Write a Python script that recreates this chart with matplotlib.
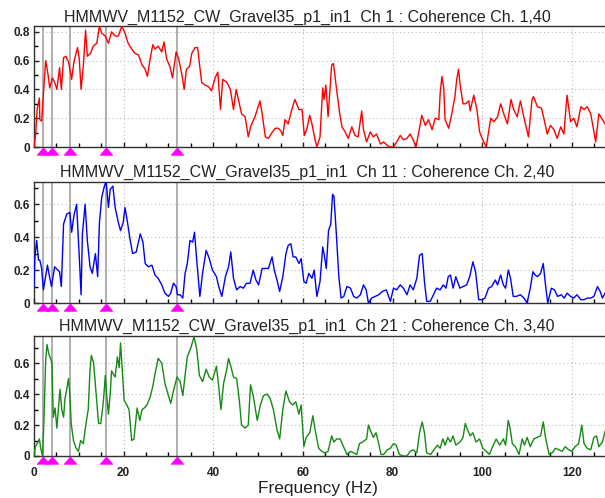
import matplotlib
matplotlib.use("Agg")
import matplotlib.pyplot as plt
from matplotlib.ticker import MultipleLocator, FuncFormatter

plt.rcParams['font.family'] = ['Liberation Sans', 'DejaVu Sans']

run_name = "HMMWV_M1152_CW_Gravel35_p1_in1"
titles = [run_name + "  Ch 1 : Coherence Ch. 1,40",
          run_name + "  Ch 11 : Coherence Ch. 2,40",
          run_name + "  Ch 21 : Coherence Ch. 3,40"]
harmonics = [2, 4, 8, 16, 32]  # Hz, grey lines + magenta arrows

# Ch 1 vs 40 (red)
f1 = [0, 0.4, 0.7, 1.2, 1.3, 1.7, 2.1, 2.6, 3.1, 3.5, 4.1, 4.6, 5.1, 5.7, 6.1, 6.6, 7.1, 7.7, 8.4, 8.9,
      9.7, 10.1, 10.5, 11.0, 11.5, 11.9, 12.6, 13.2, 14.0, 14.6, 15.1, 15.9, 16.6, 17.3, 18.1, 18.8, 19.6, 20.3, 21.0, 21.8,
      22.5, 23.3, 24.1, 24.8, 25.3, 25.9, 26.5, 27.0, 27.7, 28.5, 29.0, 29.6, 30.3, 30.9, 31.7, 32.3, 33.0, 33.5, 34.0, 34.7,
      35.2, 35.9, 36.5, 36.9, 37.4, 38.1, 38.9, 39.6, 40.4, 41.0, 41.6, 42.1, 43.0, 43.8, 44.5, 45.1, 45.6, 46.3, 47.1, 47.8,
      48.3, 49.3, 50.4, 50.9, 51.6, 52.3, 53.1, 53.8, 54.5, 55.1, 55.5, 56.0, 56.7, 57.5, 58.2, 59.1, 59.8, 60.3, 60.9, 61.5,
      62.0, 62.7, 63.1, 63.8, 64.4, 64.7, 65.1, 65.6, 66.4, 66.8, 67.5, 68.2, 68.7, 69.4, 70.1, 70.9, 71.6, 72.3, 73.1, 73.5,
      74.2, 75.0, 75.7, 76.4, 77.3, 78.0, 78.8, 79.5, 80.2, 80.9, 81.7, 82.4, 83.2, 83.9, 84.6, 85.2, 86.0, 86.5, 87.3, 88.0,
      88.8, 89.5, 90.3, 90.6, 91.0, 91.4, 91.7, 92.5, 93.2, 93.9, 94.3, 94.7, 95.1, 95.7, 96.3, 97.0, 97.3, 98.1, 98.8, 99.4,
      100.1, 100.9, 101.4, 101.9, 102.6, 103.4, 104.1, 104.8, 105.6, 106.4, 107.0, 107.8, 108.5, 109.4, 110.3, 111.1, 111.4, 112.3, 113.2, 113.8,
      114.5, 115.2, 116.0, 116.7, 117.5, 118.2, 118.9, 119.7, 120.4, 121.1, 122.0, 122.7, 123.4, 124.2, 125.3, 126.0, 126.8, 127.4]
c1 = [0, 0.10, 0.26, 0.34, 0.19, 0.18, 0.37, 0.60, 0.51, 0.41, 0.48, 0.45, 0.40, 0.55, 0.40, 0.62, 0.63, 0.59, 0.47, 0.59,
      0.69, 0.61, 0.40, 0.56, 0.81, 0.63, 0.65, 0.70, 0.72, 0.84, 0.79, 0.77, 0.72, 0.80, 0.77, 0.77, 0.84, 0.79, 0.72, 0.68,
      0.65, 0.64, 0.57, 0.54, 0.49, 0.61, 0.71, 0.68, 0.70, 0.66, 0.73, 0.61, 0.56, 0.48, 0.66, 0.61, 0.50, 0.40, 0.54, 0.56,
      0.65, 0.69, 0.69, 0.58, 0.45, 0.43, 0.42, 0.39, 0.48, 0.52, 0.26, 0.47, 0.45, 0.40, 0.26, 0.40, 0.33, 0.23, 0.21, 0.07,
      0.14, 0.21, 0.32, 0.23, 0.07, 0.06, 0.10, 0.13, 0.13, 0.11, 0.08, 0.19, 0.16, 0.26, 0.33, 0.26, 0.26, 0.08, 0.13, 0.22,
      0.16, 0.05, 0.0, 0.07, 0.41, 0.33, 0.43, 0.21, 0.57, 0.58, 0.40, 0.23, 0.14, 0.105, 0.06, 0.14, 0.08, 0.07, 0.25, 0.12,
      0.035, 0.105, 0.07, 0.09, 0.02, 0.035, 0.01, 0.0, 0.0, 0.035, 0.08, 0.05, 0.06, 0.09, 0.05, 0.0, 0.13, 0.22, 0.15, 0.19,
      0.12, 0.20, 0.19, 0.37, 0.49, 0.41, 0.19, 0.13, 0.23, 0.35, 0.47, 0.54, 0.42, 0.30, 0.30, 0.32, 0.25, 0.36, 0.26, 0.105,
      0.05, 0.0, 0.105, 0.20, 0.175, 0.21, 0.30, 0.23, 0.16, 0.33, 0.26, 0.21, 0.32, 0.19, 0.07, 0.33, 0.35, 0.28, 0.27, 0.19,
      0.09, 0.15, 0.12, 0.06, 0.14, 0.09, 0.36, 0.175, 0.20, 0.14, 0.28, 0.26, 0.28, 0.23, 0.035, 0.23, 0.19, 0.16]

# Ch 11 vs 40 (blue)
f2 = [0, 0.2, 0.6, 1.0, 1.3, 1.7, 2.1, 2.4, 3.0, 3.4, 3.9, 4.6, 5.3, 5.7, 6.1, 6.6, 7.3, 8.0, 8.4, 8.9,
      9.5, 10.1, 10.5, 10.8, 11.4, 11.9, 12.5, 13.0, 13.7, 14.2, 14.6, 15.1, 15.7, 16.1, 16.6, 17.0, 17.6, 18.1, 18.8, 19.3,
      19.9, 20.3, 20.8, 21.4, 22.0, 22.8, 23.7, 24.3, 24.8, 25.5, 26.3, 27.0, 27.7, 28.5, 29.2, 30.0, 30.5, 31.1, 31.7, 32.0,
      32.6, 33.2, 33.7, 34.2, 34.8, 35.4, 35.8, 36.3, 37.0, 37.6, 38.4, 39.1, 39.8, 40.7, 41.2, 41.9, 42.7, 43.4, 43.9, 44.5,
      45.2, 46.0, 46.7, 47.4, 48.2, 48.9, 49.5, 50.1, 50.9, 51.6, 52.3, 53.1, 53.6, 54.2, 54.8, 55.5, 56.2, 56.7, 57.3, 57.8,
      58.4, 59.1, 59.6, 60.2, 60.7, 61.3, 62.0, 62.5, 63.1, 63.8, 64.4, 64.7, 65.2, 65.7, 66.2, 66.6, 66.9, 67.4, 68.0, 68.5,
      69.1, 69.8, 70.6, 71.3, 72.0, 72.8, 73.5, 74.1, 74.6, 75.3, 76.1, 76.9, 77.7, 78.6, 79.5, 80.2, 80.9, 81.7, 82.4, 83.2,
      83.9, 84.6, 85.4, 86.0, 86.6, 87.1, 87.6, 88.4, 89.1, 89.8, 90.6, 91.3, 91.9, 92.4, 92.9, 93.5, 94.1, 95.0, 95.7, 96.5,
      97.2, 97.9, 98.5, 99.2, 99.9, 100.6, 101.4, 102.1, 102.9, 103.4, 104.1, 104.7, 105.2, 105.8, 106.3, 106.9, 107.6, 108.5, 109.3, 110.0,
      110.7, 111.3, 111.8, 112.3, 113.0, 113.6, 114.1, 114.6, 115.4, 116.1, 116.8, 117.6, 118.3, 118.9, 119.7, 120.4, 121.1, 122.0, 122.7, 123.4,
      124.2, 124.9, 125.7, 126.3, 126.8, 127.4]
c2 = [0.10, 0.28, 0.38, 0.26, 0.26, 0.21, 0.08, 0.13, 0.23, 0.17, 0.10, 0.22, 0.20, 0.19, 0.10, 0.48, 0.54, 0.55, 0.43, 0.53,
      0.60, 0.28, 0.05, 0.42, 0.60, 0.38, 0.22, 0.18, 0.30, 0.16, 0.49, 0.64, 0.71, 0.74, 0.58, 0.69, 0.71, 0.58, 0.49, 0.44,
      0.49, 0.58, 0.50, 0.39, 0.30, 0.31, 0.42, 0.37, 0.24, 0.22, 0.23, 0.17, 0.15, 0.11, 0.06, 0.04, 0.06, 0.12, 0.10, 0.05,
      0.05, 0.03, 0.18, 0.24, 0.38, 0.37, 0.43, 0.26, 0.04, 0.18, 0.32, 0.27, 0.20, 0.16, 0.10, 0.04, 0.16, 0.22, 0.31, 0.15,
      0.08, 0.10, 0.09, 0.12, 0.12, 0.20, 0.14, 0.11, 0.21, 0.21, 0.21, 0.28, 0.20, 0.14, 0.07, 0.16, 0.30, 0.35, 0.36, 0.28,
      0.28, 0.24, 0.27, 0.13, 0.12, 0.18, 0.15, 0.20, 0.04, 0.13, 0.34, 0.30, 0.21, 0.44, 0.48, 0.66, 0.65, 0.44, 0.16, 0.03,
      0.04, 0.10, 0.09, 0.04, 0.03, 0.05, 0.11, 0.08, 0.0, 0.03, 0.04, 0.05, 0.07, 0.08, 0.01, 0.09, 0.08, 0.11, 0.09, 0.05,
      0.11, 0.08, 0.15, 0.29, 0.30, 0.13, 0.01, 0.01, 0.05, 0.09, 0.08, 0.11, 0.09, 0.16, 0.17, 0.09, 0.16, 0.09, 0.10, 0.11,
      0.16, 0.25, 0.19, 0.02, 0.02, 0.03, 0.09, 0.10, 0.14, 0.11, 0.17, 0.11, 0.09, 0.20, 0.15, 0.04, 0.04, 0.05, 0.03, 0.0,
      0.09, 0.19, 0.17, 0.16, 0.18, 0.24, 0.11, 0.0, 0.09, 0.08, 0.04, 0.05, 0.03, 0.06, 0.04, 0.03, 0.05, 0.02, 0.02, 0.03,
      0.03, 0.04, 0.10, 0.07, 0.03, 0.06]

# Ch 21 vs 40 (green)
f3 = [0, 0.3, 0.7, 1.2, 1.5, 1.9, 2.2, 2.6, 2.9, 3.3, 3.7, 4.0, 4.3, 4.7, 5.1, 5.5, 5.8, 6.2, 6.6, 6.9,
      7.3, 7.7, 8.0, 8.3, 8.8, 9.4, 9.9, 10.4, 11.0, 11.6, 12.1, 12.5, 12.8, 13.3, 13.9, 14.4, 14.9, 15.5, 15.9, 16.2,
      16.6, 17.0, 17.3, 18.1, 18.6, 19.0, 19.3, 19.6, 20.1, 20.7, 21.2, 21.8, 22.3, 23.0, 23.6, 24.1, 24.6, 25.2, 25.9, 26.5,
      27.0, 27.7, 28.5, 29.2, 30.0, 30.5, 31.1, 31.9, 32.6, 33.2, 33.7, 34.2, 35.0, 35.7, 36.3, 36.9, 37.6, 38.4, 39.1, 39.8,
      40.7, 41.2, 41.7, 42.3, 43.0, 43.4, 43.9, 44.5, 45.2, 45.8, 46.3, 47.1, 47.8, 48.3, 48.9, 49.8, 50.5, 51.2, 52.0, 52.7,
      53.4, 54.2, 54.8, 55.5, 56.2, 57.0, 57.7, 58.4, 59.1, 59.6, 60.2, 60.7, 61.5, 62.2, 62.7, 63.5, 64.2, 64.9, 65.6, 66.4,
      66.9, 67.5, 68.3, 68.9, 69.8, 70.6, 71.3, 72.0, 72.6, 73.3, 74.2, 74.6, 75.1, 75.7, 76.3, 76.9, 77.4, 78.0, 78.8, 79.5,
      80.2, 80.8, 81.5, 82.4, 83.2, 83.9, 84.6, 85.4, 86.0, 86.6, 87.1, 87.6, 88.5, 89.2, 90.0, 90.6, 91.2, 91.7, 92.3, 92.9,
      93.5, 94.1, 95.0, 95.7, 96.2, 96.7, 97.3, 97.9, 98.6, 99.4, 100.1, 100.9, 101.6, 102.3, 103.1, 103.9, 104.7, 105.2, 105.8, 106.2,
      106.7, 107.4, 108.2, 108.9, 109.4, 110.0, 110.7, 111.5, 112.2, 113.0, 113.6, 114.1, 114.9, 115.6, 116.3, 117.1, 117.8, 118.5, 119.3, 120.0,
      120.7, 121.5, 122.2, 122.7, 123.4, 124.2, 124.9, 125.5, 126.0, 126.8, 127.4]
c3 = [0, 0.06, 0.08, 0.11, 0.05, 0, 0.21, 0.62, 0.72, 0.66, 0.63, 0.60, 0.25, 0.31, 0.18, 0.32, 0.43, 0.30, 0.25, 0.37,
      0.43, 0.50, 0.40, 0.21, 0.10, 0.05, 0.03, 0.10, 0.08, 0.21, 0.30, 0.56, 0.65, 0.60, 0.39, 0.21, 0.21, 0.36, 0.52, 0.40,
      0.27, 0.40, 0.55, 0.51, 0.64, 0.57, 0.73, 0.60, 0.36, 0.33, 0.30, 0.10, 0.11, 0.31, 0.23, 0.30, 0.31, 0.33, 0.38, 0.45,
      0.53, 0.63, 0.60, 0.47, 0.39, 0.34, 0.42, 0.51, 0.48, 0.39, 0.52, 0.64, 0.70, 0.77, 0.69, 0.52, 0.48, 0.56, 0.51, 0.49,
      0.58, 0.45, 0.30, 0.47, 0.56, 0.63, 0.58, 0.51, 0.50, 0.36, 0.20, 0.18, 0.20, 0.46, 0.39, 0.23, 0.33, 0.39, 0.40, 0.37,
      0.30, 0.17, 0.11, 0.30, 0.42, 0.35, 0.33, 0.35, 0.27, 0.33, 0.06, 0.12, 0.15, 0.26, 0.17, 0.05, 0.03, 0.02, 0.03, 0.13,
      0.09, 0.11, 0.11, 0.07, 0.01, 0.03, 0.02, 0.01, 0.08, 0.09, 0.11, 0.20, 0.16, 0.12, 0.15, 0.08, 0.01, 0.01, 0.04, 0.05,
      0.08, 0.07, 0.01, 0, 0, 0.03, 0.04, 0.02, 0.15, 0.22, 0.15, 0.02, 0.01, 0.04, 0.07, 0.05, 0.11, 0.07, 0.12, 0.09,
      0.13, 0.07, 0.09, 0.12, 0.21, 0.17, 0.13, 0.15, 0.09, 0.11, 0.05, 0.03, 0.01, 0.06, 0.11, 0.07, 0.11, 0.07, 0.23, 0.18,
      0.08, 0.06, 0.01, 0.11, 0.07, 0.12, 0.06, 0.11, 0.12, 0.13, 0.22, 0.12, 0.01, 0.02, 0.05, 0.04, 0.03, 0.06, 0.04, 0.03,
      0.06, 0.08, 0.20, 0.08, 0.05, 0.04, 0.12, 0.13, 0.06, 0.09, 0.16]

freqs = [f1, f2, f3]
cohs = [c1, c2, c3]
colors = ["#ff0000", "#0000ff", "#148a14"]
ytops = [0.84, 0.735, 0.775]

fig = plt.figure(figsize=(6.05, 4.98), dpi=100)
W, H = 605.0, 498.0
# axes boxes in pixels (top, bottom) and title baselines
boxes = [(26, 147), (182, 303), (336, 456)]
title_base = [22, 177, 331]
left, right = 34, 607.8

fmt = FuncFormatter(lambda v, p: "0" if abs(v) < 1e-9 else f"{v:g}")
tri = [(-1, -0.6), (1, -0.6), (0, 0.6), (-1, -0.6)]  # flat arrow marker

for i in range(3):
    top, bot = boxes[i]
    ax = fig.add_axes([left / W, 1 - bot / H, (right - left) / W, (bot - top) / H])
    ax.plot(freqs[i], cohs[i], color=colors[i], lw=1.0, zorder=3)
    for h in harmonics:
        ax.axvline(h, color="#a8a8a8", lw=1.3, zorder=2)
    ax.plot(harmonics, [-0.036] * len(harmonics), ls="none", marker=tri, ms=9,
            color="#ff00ff", mec="#ff00ff", mew=0.5, transform=ax.get_xaxis_transform(),
            clip_on=False, zorder=5)
    ax.set_xlim(0, 128)
    ax.set_ylim(0, ytops[i])
    ax.xaxis.set_major_locator(MultipleLocator(20))
    ax.xaxis.set_minor_locator(MultipleLocator(5))
    ax.yaxis.set_major_locator(MultipleLocator(0.2))
    ax.yaxis.set_minor_locator(MultipleLocator(0.1))
    ax.yaxis.set_major_formatter(fmt)
    ax.grid(True, which="major", ls=(0, (1, 2.5)), color="#b8b8b8", lw=0.8)
    ax.tick_params(direction="in", length=3.5, width=1, labelsize=8.5, colors="#222222", pad=3)
    ax.tick_params(which="minor", direction="in", length=3, width=1)
    for lab in ax.get_yticklabels() + ax.get_xticklabels():
        lab.set_fontweight("bold")
    for s in ax.spines.values():
        s.set_color("#303030")
        s.set_linewidth(1.0)
    fig.text(307 / W, 1 - title_base[i] / H, titles[i], fontsize=11.5, color="#222222",
             ha="center", va="baseline")
    if i < 2:
        ax.tick_params(labelbottom=False)
    else:
        ax.tick_params(axis="x", pad=8)

fig.text(318 / W, 1 - 493 / H, "Frequency (Hz)", fontsize=12.5, color="#222222",
         ha="center", va="baseline")

fig.savefig("out.png", dpi=100)
